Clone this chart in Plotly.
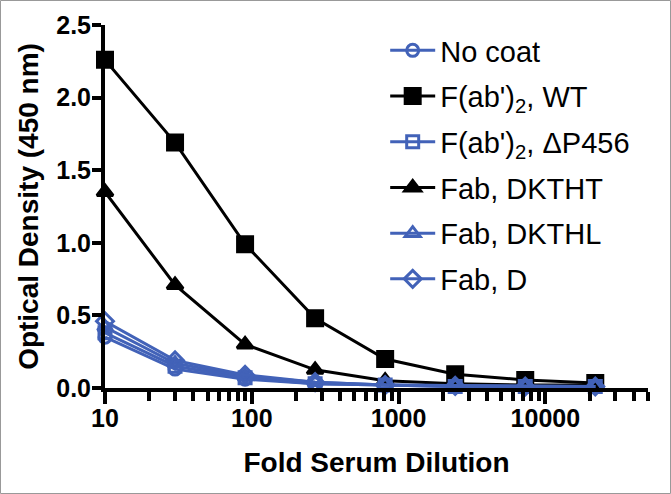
import plotly.graph_objects as go

dilution = [10, 30, 90, 270, 810, 2430, 7290, 21870]

no_coat = [0.35, 0.13, 0.06, 0.03, 0.02, 0.01, 0.01, 0.01]
fab2_wt = [2.26, 1.69, 0.99, 0.48, 0.20, 0.095, 0.055, 0.035]
fab2_dp456 = [0.38, 0.15, 0.07, 0.03, 0.02, 0.01, 0.01, 0.01]
fab_dktht = [1.35, 0.71, 0.30, 0.125, 0.05, 0.03, 0.02, 0.02]
fab_dkthl = [0.42, 0.17, 0.08, 0.04, 0.02, 0.015, 0.01, 0.01]
fab_d = [0.46, 0.19, 0.09, 0.04, 0.02, 0.015, 0.01, 0.01]

y_ticks = [0.0, 0.5, 1.0, 1.5, 2.0, 2.5]
x_ticks = [10, 100, 1000, 10000]
x_minor = [v * m for v in [10, 100, 1000, 10000] for m in range(2, 10) if v * m <= 50000]

BLUE = "#4262B8"
BLACK = "#000000"
FONT = "Arial, Liberation Sans, sans-serif"

# (legend rank, name, values, colour, symbol, size) — black drawn first so blue sits on top
series = [
    (2, "F(ab')<sub>2</sub>, WT", fab2_wt, BLACK, "square", 15),
    (4, "Fab, DKTHT", fab_dktht, BLACK, "triangle-up", 14),
    (1, "No coat", no_coat, BLUE, "circle-open", 12),
    (3, "F(ab')<sub>2</sub>, ΔP456", fab2_dp456, BLUE, "square-open", 12),
    (5, "Fab, DKTHL", fab_dkthl, BLUE, "triangle-up-open", 13),
    (6, "Fab, D", fab_d, BLUE, "diamond-open", 13),
]

fig = go.Figure()
for rank, name, vals, col, sym, sz in series:
    fig.add_trace(go.Scatter(
        x=dilution, y=vals, name=name, mode="lines+markers",
        legendgroup=f"g{rank}", legendrank=rank,
        line=dict(color=col, width=3),
        marker=dict(symbol=sym, size=sz, color=col,
                    line=dict(color=col, width=3)),
        cliponaxis=False,
    ))

L, R, T, B = 105, 23, 25, 106
W, H = 671, 494
pw, ph = W - L - R, H - T - B

fig.update_layout(
    width=W, height=H,
    margin=dict(l=L, r=R, t=T, b=B),
    paper_bgcolor="white", plot_bgcolor="white",
    font=dict(family=FONT, color="black"),
    showlegend=True,
    legend=dict(
        x=0.516, y=1.0, xanchor="left", yanchor="top",
        font=dict(family=FONT, size=29, color="black"),
        bgcolor="rgba(0,0,0,0)", tracegroupgap=5, itemwidth=45,
        traceorder="grouped", maxheight=450,
    ),
    xaxis=dict(
        type="log", range=[1, 4.699], automargin=False,
        tickmode="array", tickvals=x_ticks, ticktext=[str(v) for v in x_ticks],
        ticks="outside", ticklen=12, tickwidth=4, tickcolor="black",
        ticklabelstandoff=-7,
        showline=True, linewidth=4, linecolor="black",
        showgrid=False, zeroline=False,
        tickfont=dict(family=FONT, size=25, color="black", weight="bold"),
        title=dict(text="<b>Fold Serum Dilution</b>", standoff=22,
                   font=dict(family=FONT, size=28, color="black")),
        minor=dict(tickmode="array", tickvals=x_minor, ticks="outside",
                   ticklen=9, tickwidth=4, tickcolor="black", showgrid=False),
    ),
    yaxis=dict(
        range=[0, 2.5], automargin=False,
        tickmode="array", tickvals=y_ticks,
        ticktext=[f"{v:.1f}" for v in y_ticks],
        ticks="outside", ticklen=9, tickwidth=4, tickcolor="black",
        ticklabelstandoff=-4,
        showline=True, linewidth=4, linecolor="black",
        showgrid=False, zeroline=False,
        tickfont=dict(family=FONT, size=25, color="black", weight="bold"),
        title=dict(text="<b>Optical Density (450 nm)</b>", standoff=10,
                   font=dict(family=FONT, size=28, color="black")),
    ),
    shapes=[dict(
        type="rect", xref="paper", yref="paper",
        x0=(-L + 0.5) / pw, x1=(pw + R - 0.5) / pw,
        y0=(-B + 0.5) / ph, y1=(ph + T - 0.5) / ph,
        line=dict(color="#999999", width=1), fillcolor="rgba(0,0,0,0)",
    )],
)

fig.write_html("out.html", config={"displayModeBar": False},
               post_script="document.body.style.margin='0';")
